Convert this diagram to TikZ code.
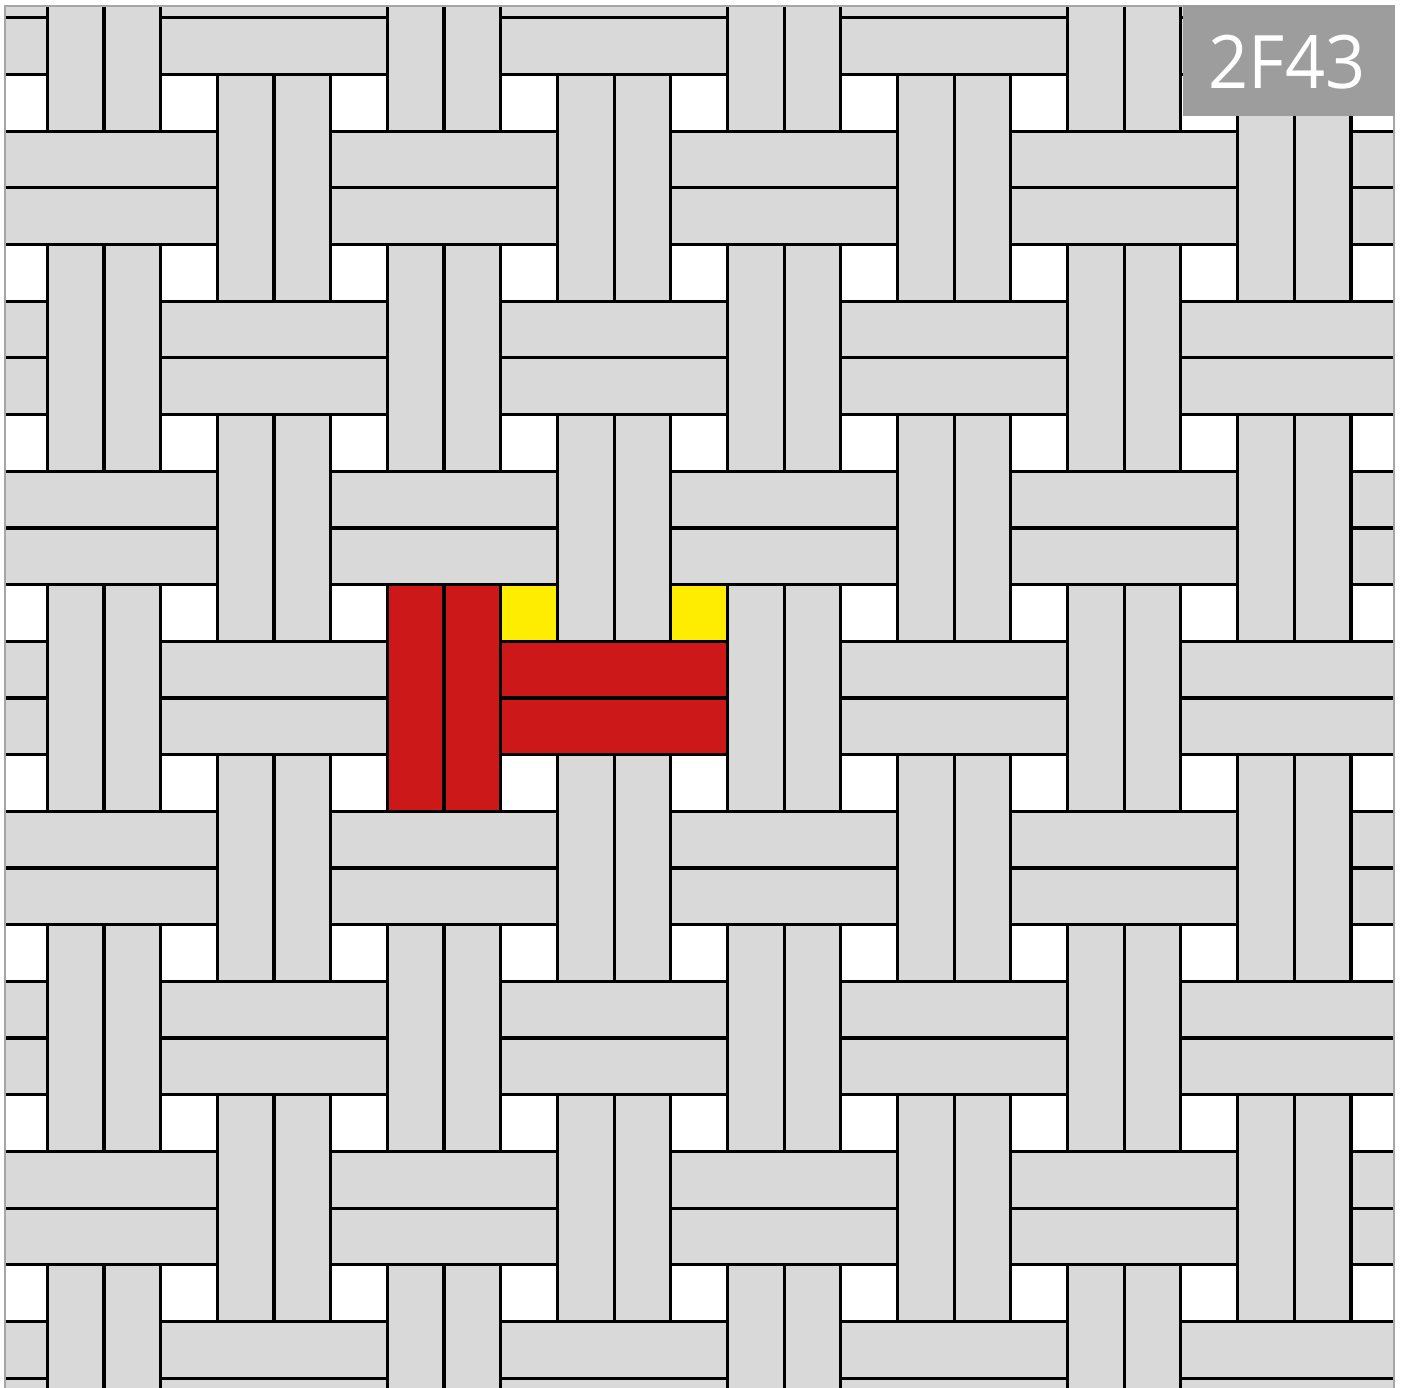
\documentclass[tikz,border=0pt]{standalone}
\usepackage{fontspec}
\setmainfont{Open Sans}
\definecolor{tilegray}{HTML}{D9D9D9}
\definecolor{framegray}{HTML}{A6A6A6}
\definecolor{labelgray}{HTML}{9D9D9D}
\definecolor{hired}{HTML}{CC1819}
\definecolor{hiyellow}{HTML}{FFED00}
\tikzset{
  brick/.style={fill=tilegray, draw=black, line width=0.9pt},
  redbrick/.style={fill=hired, draw=black, line width=0.9pt},
  yellowsq/.style={fill=hiyellow, draw=black, line width=0.9pt},
  frameline/.style={draw=framegray, line width=0.22mm},
  labelbox/.style={fill=labelgray, draw=none},
}
\newcommand\unitcell[3]{%
  \path[#3] ({#1},{#2}) rectangle ++(1,4);
  \path[#3] ({#1+1},{#2}) rectangle ++(1,4);
  \path[#3] ({#1+2},{#2+1}) rectangle ++(4,1);
  \path[#3] ({#1+2},{#2+2}) rectangle ++(4,1);
}
\begin{document}
\begin{tikzpicture}[x=0.1mm, y=-0.1mm]
\useasboundingbox (0,0) rectangle (1404,1388);
\begin{scope}
  \clip (5,6) rectangle (1394,1395);
  \begin{scope}[shift={(4.73mm,-7.45mm)}, x=5.668mm, y=-5.668mm]
    \foreach \m in {-1,...,4}{
      \foreach \n in {-1,...,4}{
        \unitcell{6*\m}{6*\n+3}{brick}
        \unitcell{6*\m+3}{6*\n}{brick}
      }
    }
    \unitcell{6}{9}{redbrick}
    \path[yellowsq] (8,9) rectangle ++(1,1);
    \path[yellowsq] (11,9) rectangle ++(1,1);
  \end{scope}
\end{scope}
\draw[frameline] (5,1400) -- (5,6) -- (1394,6) -- (1394,1400);
\path[labelbox] (1183,5) rectangle (1395,116);
\node[text=white, font=\fontsize{21}{21}\selectfont, anchor=center, inner sep=0pt, xscale=0.95] (label) at (1287,62) {2F43};
\end{tikzpicture}
\end{document}
